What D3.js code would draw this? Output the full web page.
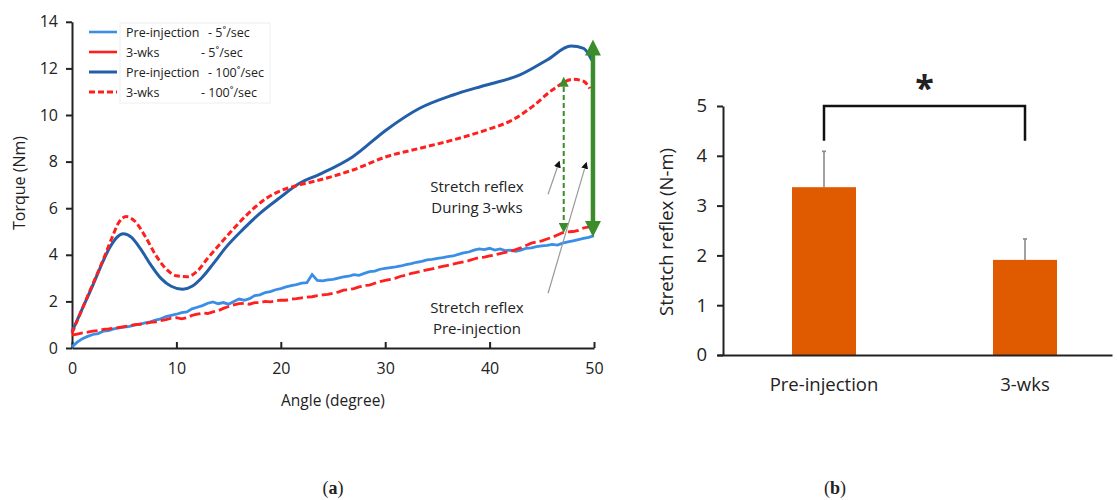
<!DOCTYPE html>
<head lang="en">
<meta charset="utf-8">
<title>Torque vs angle and stretch reflex</title>
<style>
body { margin: 0; background: #fff; }
text { font-family: "Open Sans", sans-serif; fill: #222; }
.axis path, .axis line { stroke: #222; stroke-width: 2px; }
.axis text { font-family: "Open Sans", sans-serif; fill: #222; }
</style>
<script src="https://cdn.jsdelivr.net/npm/d3@7"></script>
</head>
<body>
<script>
// ---- left chart data: torque (Nm) vs angle (degree) ----
var angleStep = [0,0.5,1,1.5,2,2.5,3,3.5,4,4.5,5,5.5,6,6.5,7,7.5,8,8.5,9,9.5,10,10.5,11,11.5,12,12.5,13,13.5,14,14.5,15,15.5,16,16.5,17,17.5,18,18.5,19,19.5,20,20.5,21,21.5,22,22.5,23,23.5,24,24.5,25,25.5,26,26.5,27,27.5,28,28.5,29,29.5,30,30.5,31,31.5,32,32.5,33,33.5,34,34.5,35,35.5,36,36.5,37,37.5,38,38.5,39,39.5,40,40.5,41,41.5,42,42.5,43,43.5,44,44.5,45,45.5,46,46.5,47,47.5,48,48.5,49,49.5,50];

var pre5 = [0.05,0.25,0.4,0.5,0.58,0.62,0.72,0.75,0.82,0.86,0.9,0.93,0.98,1.02,1.08,1.12,1.2,1.25,1.35,1.4,1.45,1.52,1.55,1.68,1.75,1.82,1.92,1.98,1.9,1.95,1.88,2.0,2.1,2.05,2.12,2.25,2.28,2.38,2.42,2.5,2.55,2.62,2.68,2.72,2.78,2.8,3.15,2.9,2.88,2.92,2.95,3.0,3.05,3.08,3.15,3.12,3.2,3.28,3.3,3.38,3.42,3.45,3.48,3.52,3.58,3.62,3.68,3.72,3.78,3.8,3.85,3.88,3.92,3.95,4.02,4.08,4.12,4.2,4.25,4.22,4.28,4.2,4.25,4.18,4.2,4.15,4.2,4.28,4.3,4.35,4.38,4.4,4.45,4.42,4.5,4.55,4.6,4.65,4.7,4.75,4.82];

var wks5 = [0.55,0.6,0.65,0.68,0.72,0.75,0.8,0.82,0.85,0.88,0.92,0.95,1.0,1.02,1.05,1.1,1.12,1.18,1.22,1.28,1.3,1.25,1.3,1.4,1.45,1.5,1.48,1.55,1.6,1.7,1.78,1.85,1.9,1.92,1.88,1.95,1.95,2.0,1.98,2.02,2.05,2.05,2.1,2.12,2.15,2.18,2.2,2.25,2.28,2.3,2.35,2.4,2.48,2.5,2.55,2.62,2.68,2.7,2.78,2.85,2.9,2.95,3.0,3.08,3.12,3.2,3.25,3.3,3.35,3.4,3.45,3.5,3.55,3.6,3.65,3.7,3.75,3.82,3.88,3.9,3.95,4.0,4.05,4.1,4.15,4.22,4.3,4.4,4.5,4.55,4.6,4.68,4.75,4.85,4.95,4.98,5.0,5.05,5.15,5.2,5.28];

var pre100Angle  = [0,1,2,3,3.6,4.3,4.9,5.7,6.5,7.5,8.5,9.5,10.6,11.5,12.5,13.5,14.8,16.4,18,19.9,21.8,23.7,26.9,30.1,33.3,36.5,39.7,42.9,45.5,47.8,49,49.8];
var pre100Torque = [0.7,1.7,2.7,3.75,4.3,4.75,4.9,4.75,4.3,3.6,3.0,2.65,2.52,2.65,3.05,3.6,4.35,5.1,5.78,6.45,7.07,7.45,8.21,9.36,10.29,10.86,11.29,11.72,12.36,12.96,12.86,12.35];

var wks100Angle  = [0,1,2,3,3.8,4.5,5.2,6,7,8,9,10,11,12,13,14.8,16.6,18.6,20,21.8,23.7,26.9,30.1,33.3,36.5,39.7,42.2,44.1,46,48,49,49.6];
var wks100Torque = [0.64,1.7,2.75,3.8,4.7,5.4,5.64,5.45,4.8,4.0,3.4,3.1,3.06,3.3,3.85,4.78,5.65,6.42,6.75,7.0,7.21,7.64,8.21,8.57,8.93,9.36,9.79,10.36,11.07,11.53,11.45,11.14];

var legendNames = ["Pre-injection", "3-wks", "Pre-injection", "3-wks"];
var legendRates = ["- 5\u02da/sec", "- 5\u02da/sec", "- 100\u02da/sec", "- 100\u02da/sec"];

// annotation arrows in data units [angle, torque]
var reflexPre = [49.9, 4.85, 13.15];   // solid green arrow
var reflex3wk = [47.1, 4.98, 11.6];    // dashed green arrow
var pointerDuring = [[45.6, 6.6], [46.6, 7.9]];
var pointerPre    = [[45.6, 2.35], [49.2, 7.85]];

// ---- right chart data ----
var groups = ["Pre-injection", "3-wks"];
var reflexMean = [3.37, 1.91];
var reflexErr  = [0.72, 0.42];

var svg = d3.select("body").append("svg")
    .attr("width", 1117)
    .attr("height", 500);

// ====================== chart (a) ======================
var x = d3.scaleLinear().domain([0, 50]).range([72, 594]);
var y = d3.scaleLinear().domain([0, 14]).range([348, 21.8]);

var defs = svg.append("defs");
function addHead(id, color, w, h) {
    defs.append("marker")
        .attr("id", id)
        .attr("viewBox", "0 0 10 10")
        .attr("refX", 5).attr("refY", 5)
        .attr("markerUnits", "userSpaceOnUse")
        .attr("markerWidth", w).attr("markerHeight", h)
        .attr("orient", "auto-start-reverse")
        .append("path")
            .attr("d", "M0,0 L10,5 L0,10 z")
            .attr("fill", color);
}
addHead("gBig", "#3b8c2a", 16, 16);
addHead("gSmall", "#3b8c2a", 10, 10);
addHead("kSmall", "#111", 7, 7);

var gA = svg.append("g");

gA.append("g")
    .attr("class", "axis")
    .attr("transform", "translate(0," + y(0) + ")")
    .call(d3.axisBottom(x).tickValues([0,10,20,30,40,50]).tickSizeInner(-6).tickSizeOuter(0).tickPadding(15))
    .selectAll("text").style("font-size", "16px");

gA.append("g")
    .attr("class", "axis")
    .attr("transform", "translate(" + x(0) + ",0)")
    .call(d3.axisLeft(y).tickValues([0,2,4,6,8,10,12,14]).tickSizeInner(6).tickSizeOuter(0).tickPadding(8))
    .selectAll("text").style("font-size", "16px");

gA.append("text")
    .attr("x", 333).attr("y", 406)
    .attr("text-anchor", "middle")
    .style("font-size", "15.5px")
    .text("Angle (degree)");

gA.append("text")
    .attr("transform", "translate(25,183) rotate(-90)")
    .attr("text-anchor", "middle")
    .style("font-size", "16px")
    .text("Torque (Nm)");

var noisyLine = d3.line()
    .x(function(d) { return x(d[0]); })
    .y(function(d) { return y(d[1]); });
var smoothLine = d3.line()
    .x(function(d) { return x(d[0]); })
    .y(function(d) { return y(d[1]); })
    .curve(d3.curveMonotoneX);

var seriesPre5 = angleStep.map(function(a, i) { return [a, pre5[i]]; });
var seriesWks5 = angleStep.map(function(a, i) { return [a, wks5[i]]; });
var seriesPre100 = pre100Angle.map(function(a, i) { return [a, pre100Torque[i]]; });
var seriesWks100 = wks100Angle.map(function(a, i) { return [a, wks100Torque[i]]; });

gA.append("path").datum(seriesPre5)
    .attr("d", noisyLine).attr("fill", "none")
    .attr("stroke", "#3a8ee6").attr("stroke-width", 2.8);

gA.append("path").datum(seriesWks5)
    .attr("d", noisyLine).attr("fill", "none")
    .attr("stroke", "#ff1f1f").attr("stroke-width", 2.8)
    .attr("stroke-dasharray", "11,4");

gA.append("path").datum(seriesPre100)
    .attr("d", smoothLine).attr("fill", "none")
    .attr("stroke", "#235fa8").attr("stroke-width", 3);

gA.append("path").datum(seriesWks100)
    .attr("d", smoothLine).attr("fill", "none")
    .attr("stroke", "#ff1f1f").attr("stroke-width", 3)
    .attr("stroke-dasharray", "6,3");

// green stretch reflex arrows
gA.append("line")
    .attr("x1", x(reflexPre[0])).attr("x2", x(reflexPre[0]))
    .attr("y1", y(reflexPre[1]) - 6).attr("y2", y(reflexPre[2]) + 6)
    .attr("stroke", "#3b8c2a").attr("stroke-width", 4.5)
    .attr("marker-start", "url(#gBig)").attr("marker-end", "url(#gBig)");

gA.append("line")
    .attr("x1", x(reflex3wk[0])).attr("x2", x(reflex3wk[0]))
    .attr("y1", y(reflex3wk[1]) - 4).attr("y2", y(reflex3wk[2]) + 4)
    .attr("stroke", "#3b8c2a").attr("stroke-width", 2)
    .attr("stroke-dasharray", "5,3")
    .attr("marker-start", "url(#gSmall)").attr("marker-end", "url(#gSmall)");

[pointerDuring, pointerPre].forEach(function(p) {
    gA.append("line")
        .attr("x1", x(p[0][0])).attr("y1", y(p[0][1]))
        .attr("x2", x(p[1][0])).attr("y2", y(p[1][1]))
        .attr("stroke", "#999").attr("stroke-width", 1.2)
        .attr("marker-end", "url(#kSmall)");
});

function twoLines(cx, cy, lines) {
    gA.append("text")
        .attr("x", cx).attr("y", cy)
        .attr("text-anchor", "middle")
        .style("font-size", "15px")
        .selectAll("tspan").data(lines).enter()
        .append("tspan")
            .attr("x", cx)
            .attr("dy", function(d, i) { return i === 0 ? 0 : 21; })
            .text(function(d) { return d; });
}
twoLines(477, 192, ["Stretch reflex", "During 3-wks"]);
twoLines(477, 313, ["Stretch reflex", "Pre-injection"]);

// legend
var legend = gA.append("g");
legend.append("rect")
    .attr("x", 120).attr("y", 23).attr("width", 150).attr("height", 80)
    .attr("fill", "#fff").attr("stroke", "#eee");
var legendStyle = [
    { c: "#3a8ee6", w: 2.6, dash: null },
    { c: "#ff1f1f", w: 2.6, dash: null },
    { c: "#235fa8", w: 3, dash: null },
    { c: "#ff1f1f", w: 3, dash: "6,3" }
];
var rowY = [32, 52, 72, 92];
legendNames.forEach(function(name, i) {
    legend.append("line")
        .attr("x1", 89).attr("x2", 117)
        .attr("y1", rowY[i]).attr("y2", rowY[i])
        .attr("stroke", legendStyle[i].c).attr("stroke-width", legendStyle[i].w)
        .attr("stroke-dasharray", legendStyle[i].dash);
    legend.append("text")
        .attr("x", 126).attr("y", rowY[i] + 5)
        .style("font-size", "12.5px")
        .text(name);
    legend.append("text")
        .attr("x", i % 2 === 0 ? 208 : 201).attr("y", rowY[i] + 5)
        .style("font-size", "12.5px")
        .text(legendRates[i]);
});

// ====================== chart (b) ======================
var x2 = d3.scalePoint().domain(groups).range([824, 1025]);
var y2 = d3.scaleLinear().domain([0, 5]).range([355, 106]);
var barW = 64;

var gB = svg.append("g");

gB.selectAll("rect.bar")
    .data(groups)
    .enter()
    .append("rect")
        .attr("class", "bar")
        .attr("x", function(d) { return x2(d) - barW / 2; })
        .attr("width", barW)
        .attr("y", function(d, i) { return y2(reflexMean[i]); })
        .attr("height", function(d, i) { return y2(0) - y2(reflexMean[i]); })
        .attr("fill", "#e05a00");

gB.selectAll("line.err")
    .data(groups)
    .enter()
    .append("line")
        .attr("class", "err")
        .attr("x1", function(d) { return x2(d); })
        .attr("x2", function(d) { return x2(d); })
        .attr("y1", function(d, i) { return y2(reflexMean[i]); })
        .attr("y2", function(d, i) { return y2(reflexMean[i] + reflexErr[i]); })
        .attr("stroke", "#8a8a8a").attr("stroke-width", 1.6);

gB.selectAll("line.cap")
    .data(groups)
    .enter()
    .append("line")
        .attr("class", "cap")
        .attr("x1", function(d) { return x2(d) - 2; })
        .attr("x2", function(d) { return x2(d) + 2; })
        .attr("y1", function(d, i) { return y2(reflexMean[i] + reflexErr[i]); })
        .attr("y2", function(d, i) { return y2(reflexMean[i] + reflexErr[i]); })
        .attr("stroke", "#8a8a8a").attr("stroke-width", 1.6);

gB.append("g")
    .attr("class", "axis")
    .attr("transform", "translate(0," + y2(0) + ")")
    .call(d3.axisBottom(d3.scaleLinear().range([717, 1112])).ticks(0).tickSizeOuter(0));

gB.append("g")
    .attr("class", "axis")
    .attr("transform", "translate(723,0)")
    .call(d3.axisLeft(y2).ticks(5).tickSizeInner(6).tickSizeOuter(0).tickPadding(10))
    .selectAll("text").style("font-size", "18.5px");

gB.selectAll("text.cat")
    .data(groups)
    .enter()
    .append("text")
        .attr("class", "cat")
        .attr("x", function(d) { return x2(d); })
        .attr("y", 391)
        .attr("text-anchor", "middle")
        .style("font-size", "18.5px")
        .text(function(d) { return d; });

gB.append("text")
    .attr("transform", "translate(673,232) rotate(-90)")
    .attr("text-anchor", "middle")
    .style("font-size", "18.5px")
    .text("Stretch reflex (N-m)");

// significance bracket
var bracketTop = y2(5), bracketLeg = y2(4.3);
gB.append("path")
    .attr("d", "M" + x2(groups[0]) + "," + bracketLeg + " V" + bracketTop +
               " H" + x2(groups[1]) + " V" + bracketLeg)
    .attr("fill", "none").attr("stroke", "#111").attr("stroke-width", 2.5);

gB.append("text")
    .attr("x", (x2(groups[0]) + x2(groups[1])) / 2).attr("y", 100)
    .attr("text-anchor", "middle")
    .style("font-size", "34px").style("font-weight", "bold")
    .text("*");

// panel captions
[["a", 333], ["b", 835]].forEach(function(c) {
    var t = svg.append("text")
        .attr("x", c[1]).attr("y", 494)
        .attr("text-anchor", "middle")
        .style("font-family", "'Liberation Serif', serif")
        .style("font-size", "18px");
    t.append("tspan").text("(");
    t.append("tspan").style("font-weight", "bold").style("font-family", "'Liberation Serif', serif").text(c[0]);
    t.append("tspan").text(")");
});
</script>
</body>
</html>
